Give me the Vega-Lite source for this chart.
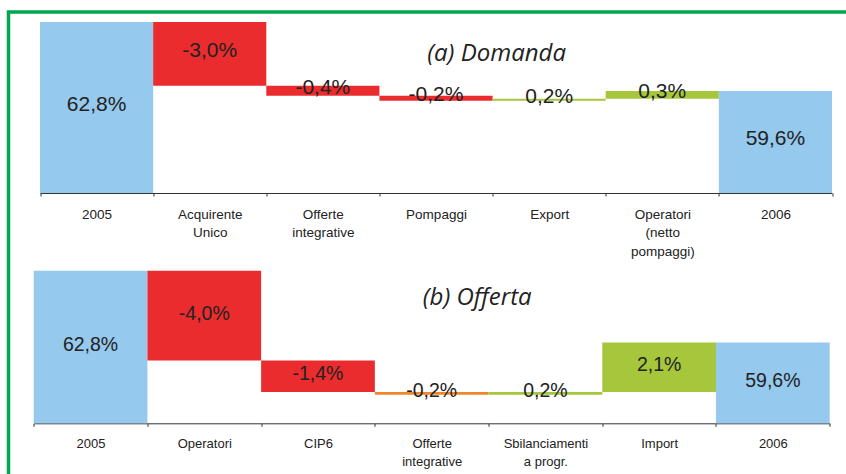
{
  "$schema": "https://vega.github.io/schema/vega-lite/v6.json",
  "width": 837.5,
  "height": 462,
  "autosize": "none",
  "padding": {"left": 8.5, "top": 12, "right": 0, "bottom": 0},
  "background": "white",
  "config": {
    "view": {"stroke": "#00a650", "strokeWidth": 3.5, "strokeDash": [837.5, 1299.5, 462, 40]},
    "axis": {
      "labelFont": "Liberation Sans",
      "labelColor": "#222222",
      "domainColor": "#333333",
      "domainWidth": 1,
      "tickColor": "#333333",
      "tickSize": 3,
      "tickBand": "extent",
      "labelAngle": 0,
      "labelPadding": 11,
      "labelLineHeight": 18.5,
      "labelLimit": 0,
      "labelExpr": "datum.value ? split(datum.value, ' ') : ''",
      "grid": false,
      "title": null
    },
    "text": {"font": "Liberation Sans", "fill": "#222222"}
  },
  "datasets": {
    "domanda": [
      {"voce": "2005", "inizio": 55, "fine": 62.8, "tipo": "Totale", "etichetta": "62,8%"},
      {"voce": "Acquirente Unico", "inizio": 62.8, "fine": 59.89, "tipo": "Diminuzione", "etichetta": "-3,0%"},
      {"voce": "Offerte integrative", "inizio": 59.89, "fine": 59.44, "tipo": "Diminuzione", "etichetta": "-0,4%"},
      {"voce": "Pompaggi", "inizio": 59.44, "fine": 59.21, "tipo": "Diminuzione", "etichetta": "-0,2%"},
      {"voce": "Export", "inizio": 59.21, "fine": 59.3, "tipo": "Aumento", "etichetta": "0,2%"},
      {"voce": "Operatori (netto pompaggi)", "inizio": 59.3, "fine": 59.65, "tipo": "Aumento", "etichetta": "0,3%"},
      {"voce": "2006", "inizio": 55, "fine": 59.65, "tipo": "Totale", "etichetta": "59,6%"}
    ],
    "offerta": [
      {"voce": "2005", "inizio": 56, "fine": 62.8, "tipo": "Totale", "etichetta": "62,8%"},
      {"voce": "Operatori", "inizio": 62.8, "fine": 58.8, "tipo": "Diminuzione", "etichetta": "-4,0%"},
      {"voce": "CIP6", "inizio": 58.8, "fine": 57.39, "tipo": "Diminuzione", "etichetta": "-1,4%"},
      {"voce": "Offerte integrative", "inizio": 57.39, "fine": 57.27, "tipo": "Offerte", "etichetta": "-0,2%"},
      {"voce": "Sbilanciamenti a\u00a0progr.", "inizio": 57.27, "fine": 57.4, "tipo": "Aumento", "etichetta": "0,2%"},
      {"voce": "Import", "inizio": 57.4, "fine": 59.6, "tipo": "Aumento", "etichetta": "2,1%"},
      {"voce": "2006", "inizio": 56, "fine": 59.6, "tipo": "Totale", "etichetta": "59,6%"}
    ]
  },
  "layer": [
    {
      "data": {"name": "domanda"},
      "encoding": {
        "x": {
          "field": "voce",
          "type": "nominal",
          "scale": {
            "domain": ["2005", "Acquirente Unico", "Offerte integrative", "Pompaggi", "Export", "Operatori (netto pompaggi)", "2006"],
            "range": [31.5, 823.5],
            "paddingInner": 0,
            "paddingOuter": 0
          },
          "axis": {"orient": "bottom", "offset": -281, "labelFontSize": 13.5}
        }
      },
      "layer": [
        {
          "mark": {"type": "bar"},
          "encoding": {
            "y": {"field": "inizio", "type": "quantitative", "scale": {"domain": [55, 62.8], "range": [181, 10], "zero": false, "nice": false}, "axis": null},
            "y2": {"field": "fine"},
            "color": {
              "field": "tipo",
              "type": "nominal",
              "scale": {"domain": ["Totale", "Diminuzione", "Aumento", "Offerte"], "range": ["#95c9ed", "#ea2c2e", "#a6c63c", "#f0862b"]},
              "legend": null
            }
          }
        },
        {
          "transform": [
            {"fold": ["inizio", "fine"], "as": ["estremo", "valore"]},
            {"aggregate": [{"op": "mean", "field": "valore", "as": "centro"}], "groupby": ["voce", "etichetta"]}
          ],
          "mark": {"type": "text", "fontSize": 21, "baseline": "middle", "align": "center", "dy": -3},
          "encoding": {
            "y": {"field": "centro", "type": "quantitative", "scale": {"domain": [55, 62.8], "range": [181, 10], "zero": false, "nice": false}, "axis": null},
            "text": {"field": "etichetta"}
          }
        },
        {
          "data": {"values": [{"titolo": "(a)  Domanda"}]},
          "mark": {"type": "text", "font": "Open Sans", "fontStyle": "italic", "fontSize": 24, "baseline": "alphabetic", "align": "center", "dx": 4},
          "encoding": {
            "x": {"datum": "Export", "bandPosition": 0},
            "y": {"datum": 61.02, "type": "quantitative", "scale": {"domain": [55, 62.8], "range": [181, 10], "zero": false, "nice": false}, "axis": null},
            "text": {"field": "titolo"}
          }
        }
      ]
    },
    {
      "data": {"name": "offerta"},
      "encoding": {
        "x": {
          "field": "voce",
          "type": "nominal",
          "scale": {
            "domain": ["2005", "Operatori", "CIP6", "Offerte integrative", "Sbilanciamenti a\u00a0progr.", "Import", "2006"],
            "range": [25.2, 821.2],
            "paddingInner": 0,
            "paddingOuter": 0
          },
          "axis": {"orient": "bottom", "offset": -50.7, "labelFontSize": 13}
        }
      },
      "layer": [
        {
          "mark": {"type": "bar"},
          "encoding": {
            "y": {"field": "inizio", "type": "quantitative", "scale": {"domain": [56, 62.8], "range": [411.3, 258.7], "zero": false, "nice": false}, "axis": null},
            "y2": {"field": "fine"},
            "color": {
              "field": "tipo",
              "type": "nominal",
              "scale": {"domain": ["Totale", "Diminuzione", "Aumento", "Offerte"], "range": ["#95c9ed", "#ea2c2e", "#a6c63c", "#f0862b"]},
              "legend": null
            }
          }
        },
        {
          "transform": [
            {"fold": ["inizio", "fine"], "as": ["estremo", "valore"]},
            {"aggregate": [{"op": "mean", "field": "valore", "as": "centro"}], "groupby": ["voce", "etichetta"]}
          ],
          "mark": {"type": "text", "fontSize": 19.5, "baseline": "middle", "align": "center", "dy": -2},
          "encoding": {
            "y": {"field": "centro", "type": "quantitative", "scale": {"domain": [56, 62.8], "range": [411.3, 258.7], "zero": false, "nice": false}, "axis": null},
            "text": {"field": "etichetta"}
          }
        },
        {
          "data": {"values": [{"titolo": "(b)  Offerta"}]},
          "mark": {"type": "text", "font": "Open Sans", "fontStyle": "italic", "fontSize": 24, "baseline": "alphabetic", "align": "center"},
          "encoding": {
            "x": {"datum": "Offerte integrative", "bandPosition": 0.9},
            "y": {"datum": 61.27, "type": "quantitative", "scale": {"domain": [56, 62.8], "range": [411.3, 258.7], "zero": false, "nice": false}, "axis": null},
            "text": {"field": "titolo"}
          }
        }
      ]
    }
  ],
  "resolve": {
    "scale": {"x": "independent", "y": "independent", "color": "shared"},
    "axis": {"x": "independent", "y": "independent"}
  }
}
